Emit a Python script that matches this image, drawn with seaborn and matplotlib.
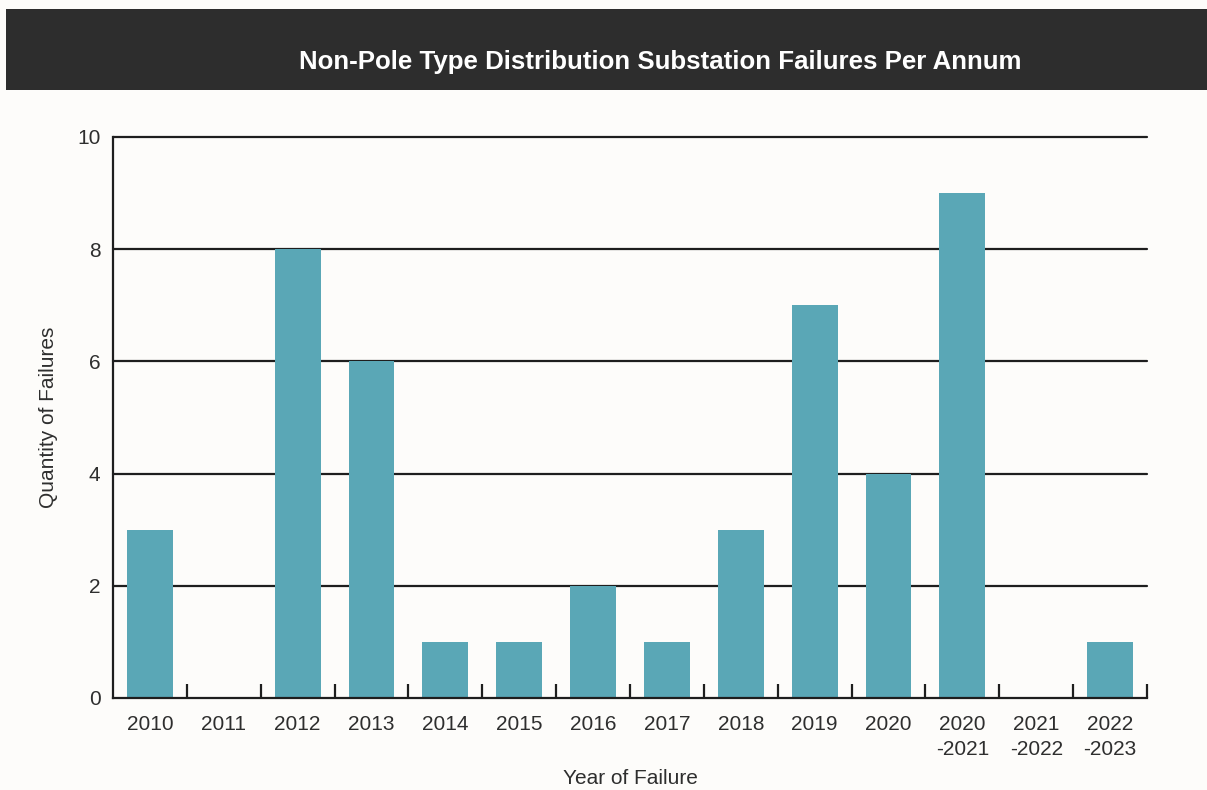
import matplotlib
matplotlib.use("Agg")
import matplotlib.pyplot as plt
from matplotlib.patches import Rectangle
from matplotlib.ticker import FixedLocator, NullLocator
import seaborn as sns
import pandas as pd

# Failure counts per year / financial year
years = ["2010", "2011", "2012", "2013", "2014", "2015", "2016", "2017",
         "2018", "2019", "2020", "2020\n-2021", "2021\n-2022", "2022\n-2023"]
failures = [3, 0, 8, 6, 1, 1, 2, 1, 3, 7, 4, 9, 0, 1]
y_ticks = [0, 2, 4, 6, 8, 10]

title = "Non-Pole Type Distribution Substation Failures Per Annum"
x_label = "Year of Failure"
y_label = "Quantity of Failures"

sns.set_theme(style="white")
plt.rcParams["font.family"] = ["Liberation Sans", "DejaVu Sans"]

bg = "#fdfcfa"
bar_color = "#5aa7b6"
ink = "#1e1e1e"
text_color = "#2e2e2e"

fig = plt.figure(figsize=(12.07, 7.9), dpi=100, facecolor=bg)
ax = fig.add_axes([0.0936, 0.1165, 0.9503 - 0.0936, 0.8266 - 0.1165])
ax.set_facecolor(bg)

df = pd.DataFrame({"year": years, "failures": failures})
sns.barplot(data=df, x="year", y="failures", order=years, color=bar_color,
            saturation=1, width=0.62, ax=ax, zorder=3,
            edgecolor="none", linewidth=0)

ax.set_xlim(-0.5, len(years) - 0.5)
ax.set_ylim(0, 10)
ax.set_yticks(y_ticks)
ax.set_yticklabels([str(t) for t in y_ticks])

# horizontal gridlines drawn behind the bars
for t in y_ticks[1:]:
    ax.axhline(t, color=ink, lw=1.6, zorder=1, clip_on=False)

for side in ["top", "right"]:
    ax.spines[side].set_visible(False)
for side in ["left", "bottom"]:
    ax.spines[side].set_color(ink)
    ax.spines[side].set_linewidth(1.6)
    ax.spines[side].set_zorder(4)

# separator ticks between categories, pointing up into the plot
ax.xaxis.set_minor_locator(FixedLocator([i + 0.5 for i in range(len(years))]))
ax.tick_params(axis="x", which="minor", direction="in", length=10, width=1.6,
               color=ink, bottom=True)
ax.tick_params(axis="x", which="major", length=0, pad=12, labelsize=15,
               labelcolor=text_color)
ax.tick_params(axis="y", which="major", length=0, pad=9, labelsize=15,
               labelcolor=text_color)
ax.yaxis.set_minor_locator(NullLocator())
for lbl in ax.get_xticklabels():
    lbl.set_linespacing(1.45)

ax.set_xlabel(x_label, fontsize=15, color=text_color, labelpad=7)
ax.set_ylabel(y_label, fontsize=15, color=text_color, labelpad=14)

# dark title banner
fig.patches.append(Rectangle((0.005, 0.886), 0.995, 0.102, transform=fig.transFigure,
                             facecolor="#2d2d2d", edgecolor="none", zorder=0))
fig.text(0.547, 0.922, title, ha="center", va="center", color="white",
         fontsize=18.6, fontweight="bold")

fig.savefig("out.png", dpi=100, facecolor=bg)
